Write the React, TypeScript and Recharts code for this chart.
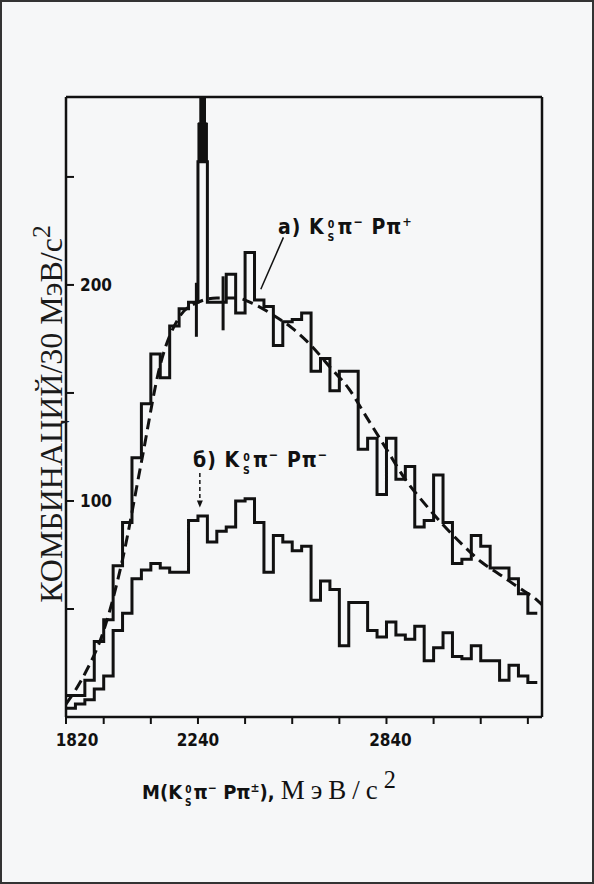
import { ComposedChart, Line, XAxis, YAxis, ReferenceArea, ReferenceLine, ReferenceDot } from 'recharts'

// bin low edges, 30 MeV/c^2 bins
const binStarts = [1820, 1850, 1880, 1910, 1940, 1970, 2000, 2030, 2060, 2090, 2120, 2150, 2180, 2210, 2240, 2270, 2300, 2330, 2360, 2390, 2420, 2450, 2480, 2510, 2540, 2570, 2600, 2630, 2660, 2690, 2720, 2750, 2780, 2810, 2840, 2870, 2900, 2930, 2960, 2990, 3020, 3050, 3080, 3110, 3140, 3170, 3200, 3230, 3260, 3290]
const lastEdge = 3320

// а) K0s pi- p pi+
const countsPlus = [10, 10, 17, 35, 45, 70, 90, 120, 145, 168, 157, 181, 189, 192, 257, 192, 192, 205, 187, 215, 193, 190, 172, 183, 184, 187, 160, 166, 151, 160, 160, 124, 129, 103, 129, 110, 116, 88, 91, 112, 90, 71, 73, 84, 79, 69, 69, 64, 57, 48]
// б) K0s pi- p pi-
const countsMinus = [4, 6, 8, 13, 19, 40, 48, 64, 68, 71, 69, 67, 67, 91, 93, 81, 86, 88, 100, 101, 90, 67, 84, 81, 77, 79, 54, 63, 59, 33, 53, 53, 40, 37, 44, 38, 36, 42, 26, 32, 39, 28, 27, 33, 26, 26, 17, 24, 19, 16]

// dashed background fit
const fitMass = [1820, 1880, 1940, 2000, 2060, 2120, 2180, 2240, 2300, 2360, 2420, 2480, 2540, 2600, 2660, 2720, 2780, 2840, 2900, 2960, 3020, 3080, 3140, 3200, 3260, 3320, 3335]
const fitCounts = [6, 20, 40, 73, 118, 163, 185, 192, 194, 194, 191, 186, 180, 172, 162, 152, 138, 124, 110, 99, 89, 80, 72, 66, 60, 54, 52]

// off-scale bin at 2240-2270
const spikeBin = [2240, 2270]
const spikeNeck = [2246, 2264]
const spikeFill = [257, 275]
const spikeTop = 287

// error bars
const errMass = [2235, 2320]
const errLow = [176, 179]
const errHigh = [201, 204]

const xTicks = [1820, 1940, 2090, 2240, 2390, 2540, 2690, 2840, 2990, 3140, 3290]
const xLabels = [1820, 2240, 2840]
const yTicks = [0, 50, 100, 150, 200, 250]
const yLabels = [100, 200]

const histRows = [
  ...binStarts.map((m, i) => ({ m, a: countsPlus[i], b: countsMinus[i] })),
  { m: lastEdge, a: countsPlus[countsPlus.length - 1], b: countsMinus[countsMinus.length - 1] },
]
const fitRows = fitMass.map((m, i) => ({ m, fit: fitCounts[i] }))

const boldSans = "'DejaVu Sans Condensed', 'DejaVu Sans', sans-serif"
const serif = "'Liberation Serif', 'DejaVu Serif', serif"

function XTick({ x, y, payload }: any) {
  const v = payload.value
  if (!xLabels.includes(v)) return <g />
  const dx = v === 1820 ? 11 : v === 2840 ? 4 : 0
  return (
    <text x={x + dx} y={y + 20} textAnchor="middle" fontFamily={boldSans} fontWeight="bold" fontSize={17} fill="#111">
      {v}
    </text>
  )
}

function YTick({ x, y, payload }: any) {
  const v = payload.value
  if (!yLabels.includes(v)) return <g />
  return (
    <text x={x + 4} y={y + 6} textAnchor="start" fontFamily={boldSans} fontWeight="bold" fontSize={17} fill="#111">
      {v}
    </text>
  )
}

function ArrowHead({ cx, cy }: any) {
  return <path d={`M${cx - 3},${cy - 7} L${cx + 3},${cy - 7} L${cx},${cy} Z`} fill="#111" />
}

const sup = { fontSize: '0.6em', verticalAlign: '0.6em', lineHeight: 1 }
const stack = { display: 'inline-flex', flexDirection: 'column' as const, fontSize: '0.5em', lineHeight: 1.25, verticalAlign: '0.55em', marginLeft: 3, marginRight: 2, textAlign: 'center' as const }

// particle string: K0s pi- p pi(sign)
function Decay({ lead, sign }: { lead: string; sign: string }) {
  return (
    <>
      <span>{lead}K</span>
      <span style={stack}>
        <span>0</span>
        <span>S</span>
      </span>
      <span>π</span>
      <span style={sup}>−</span>
      <span> Pπ</span>
      <span style={sup}>{sign}</span>
    </>
  )
}

export default function App() {
  const axisStroke = { stroke: '#111', strokeWidth: 2.5 }
  const labelStyle = { position: 'absolute' as const, fontFamily: boldSans, fontWeight: 'bold' as const, fontSize: 21, letterSpacing: 1, color: '#111', whiteSpace: 'nowrap' as const, lineHeight: 1 }
  return (
    <div style={{ position: 'absolute', left: 0, top: 0, width: 594, height: 884, background: '#f6f7f8', boxSizing: 'border-box', border: '2px solid #333', overflow: 'hidden' }}>
      <div style={{ position: 'absolute', left: -2, top: -2 }}>
        <ComposedChart width={594} height={884} data={histRows} margin={{ top: 97, right: 52, bottom: 166, left: 66 }}>
          <XAxis xAxisId={0} dataKey="m" type="number" domain={[1820, 3335]} ticks={xTicks} interval={0} allowDataOverflow
            height={1} tickSize={7} axisLine={axisStroke} tickLine={{ stroke: '#111', strokeWidth: 2 }} tick={<XTick />} />
          <XAxis xAxisId="top" orientation="top" mirror dataKey="m" type="number" domain={[1820, 3335]} ticks={xTicks} interval={0} allowDataOverflow
            height={1} tickSize={9} axisLine={axisStroke} tickLine={{ stroke: '#111', strokeWidth: 2 }} tick={false} />
          <YAxis yAxisId={0} mirror type="number" domain={[0, 287]} ticks={yTicks} interval={0} allowDataOverflow
            width={1} tickSize={8} axisLine={axisStroke} tickLine={{ stroke: '#111', strokeWidth: 2 }} tick={<YTick />} />
          <YAxis yAxisId="r" orientation="right" mirror type="number" domain={[0, 287]} ticks={yTicks} interval={0} allowDataOverflow
            width={1} tickSize={8} axisLine={axisStroke} tickLine={{ stroke: '#111', strokeWidth: 2 }} tick={false} />

          <Line data={fitRows} dataKey="fit" type="monotone" stroke="#111" strokeWidth={3} strokeDasharray="11 6" dot={false} isAnimationActive={false} />
          <Line dataKey="a" type="stepAfter" stroke="#111" strokeWidth={3} dot={false} isAnimationActive={false} />
          <Line dataKey="b" type="stepAfter" stroke="#111" strokeWidth={3} dot={false} isAnimationActive={false} />

          <ReferenceArea x1={spikeBin[0]} x2={spikeBin[1]} y1={spikeFill[0]} y2={spikeFill[1]} fill="#111" fillOpacity={1} stroke="#111" />
          <ReferenceArea x1={spikeNeck[0]} x2={spikeNeck[1]} y1={spikeFill[1]} y2={spikeTop} fill="#111" fillOpacity={1} stroke="#111" />

          {errMass.map((m, i) => (
            <ReferenceLine key={m} segment={[{ x: m, y: errLow[i] }, { x: m, y: errHigh[i] }]} stroke="#111" strokeWidth={3} />
          ))}

          <ReferenceLine segment={[{ x: 2512, y: 222 }, { x: 2440, y: 198 }]} stroke="#111" strokeWidth={1.5} />
          <ReferenceLine segment={[{ x: 2246, y: 113 }, { x: 2246, y: 100 }]} stroke="#111" strokeWidth={1.5} strokeDasharray="4 3" />
          <ReferenceDot x={2246} y={97} shape={<ArrowHead />} />
        </ComposedChart>
      </div>

      <div style={{ ...labelStyle, left: 276, top: 214 }}>
        <Decay lead="а) " sign="+" />
      </div>
      <div style={{ ...labelStyle, left: 191, top: 447 }}>
        <Decay lead="б) " sign="−" />
      </div>

      <div style={{ position: 'absolute', left: 46, top: 412, transform: 'translate(-50%, -50%) rotate(-90deg)', whiteSpace: 'nowrap', fontFamily: serif, fontSize: 32, color: '#1a1a1a', lineHeight: 1 }}>
        <span>КОМБИНАЦИЙ/30 МэВ/с</span>
        <span style={{ fontSize: '0.8em', verticalAlign: '0.5em' }}>2</span>
      </div>

      <div style={{ position: 'absolute', left: 140, top: 766, whiteSpace: 'nowrap', color: '#111', lineHeight: 1 }}>
        <span style={{ fontFamily: boldSans, fontWeight: 'bold', fontSize: 20 }}>
          <Decay lead="M(" sign="±" />
          <span>),</span>
        </span>
        <span style={{ fontFamily: serif, fontSize: 27, letterSpacing: 6, marginLeft: 6 }}>
          <span>МэВ/с</span>
          <span style={{ fontSize: '0.9em', verticalAlign: '0.45em' }}>2</span>
        </span>
      </div>
    </div>
  )
}
